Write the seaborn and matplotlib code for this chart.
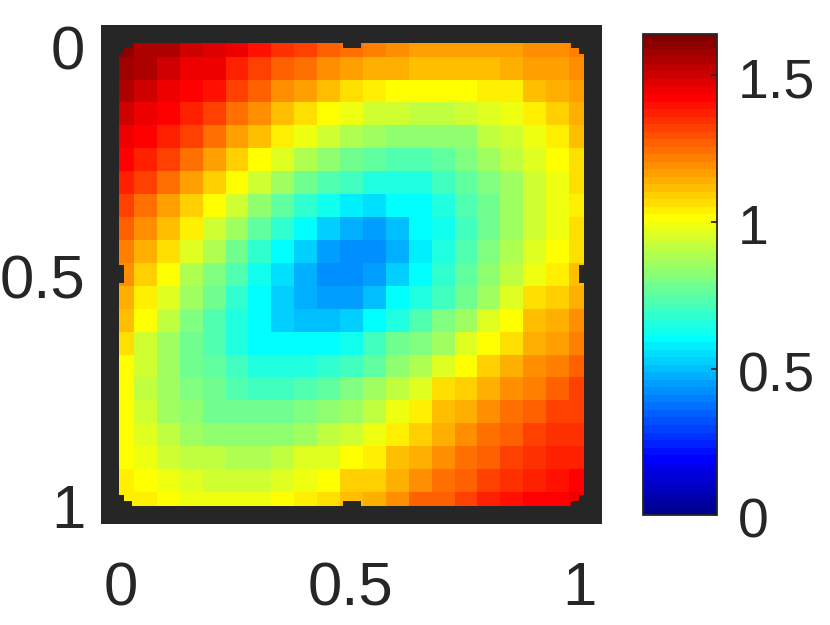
import matplotlib
matplotlib.use("Agg")
import matplotlib.pyplot as plt
from matplotlib.colors import LinearSegmentedColormap
from matplotlib.patches import Rectangle
from matplotlib.transforms import ScaledTranslation
import seaborn as sns

# values, one list per grid row (top to bottom)
row00 = [1.60, 1.56, 1.54, 1.49, 1.48, 1.44, 1.40, 1.35, 1.31, 1.28, 1.25, 1.22, 1.18, 1.16, 1.16, 1.16, 1.16, 1.16, 1.18, 1.18, 1.21]
row01 = [1.58, 1.55, 1.50, 1.46, 1.45, 1.38, 1.33, 1.27, 1.25, 1.18, 1.17, 1.13, 1.13, 1.11, 1.11, 1.11, 1.11, 1.13, 1.16, 1.16, 1.20]
row02 = [1.55, 1.50, 1.45, 1.41, 1.39, 1.33, 1.28, 1.18, 1.16, 1.12, 1.06, 1.05, 1.01, 1.01, 1.01, 1.01, 1.05, 1.05, 1.11, 1.13, 1.16]
row03 = [1.50, 1.45, 1.41, 1.37, 1.31, 1.25, 1.18, 1.11, 1.06, 1.01, 0.98, 0.93, 0.93, 0.91, 0.91, 0.93, 0.96, 0.98, 1.05, 1.10, 1.13]
row04 = [1.45, 1.41, 1.37, 1.31, 1.25, 1.16, 1.11, 1.05, 0.98, 0.93, 0.88, 0.86, 0.83, 0.83, 0.83, 0.83, 0.90, 0.93, 0.98, 1.05, 1.11]
row05 = [1.41, 1.37, 1.31, 1.25, 1.16, 1.09, 1.01, 0.96, 0.88, 0.83, 0.78, 0.76, 0.74, 0.74, 0.76, 0.80, 0.86, 0.90, 0.96, 1.01, 1.06]
row06 = [1.37, 1.33, 1.25, 1.16, 1.09, 1.01, 0.93, 0.86, 0.78, 0.74, 0.71, 0.66, 0.66, 0.66, 0.71, 0.76, 0.80, 0.87, 0.93, 0.98, 1.06]
row07 = [1.33, 1.24, 1.16, 1.10, 1.01, 0.93, 0.83, 0.76, 0.69, 0.64, 0.58, 0.56, 0.59, 0.61, 0.66, 0.74, 0.78, 0.86, 0.93, 0.98, 1.03]
row08 = [1.28, 1.18, 1.11, 1.05, 0.93, 0.86, 0.76, 0.69, 0.61, 0.53, 0.48, 0.46, 0.51, 0.59, 0.64, 0.71, 0.78, 0.86, 0.93, 0.98, 1.06]
row09 = [1.21, 1.13, 1.06, 0.96, 0.88, 0.78, 0.69, 0.61, 0.53, 0.46, 0.41, 0.43, 0.48, 0.57, 0.66, 0.74, 0.81, 0.88, 0.96, 1.01, 1.06]
row10 = [1.18, 1.09, 1.01, 0.89, 0.80, 0.74, 0.64, 0.54, 0.48, 0.43, 0.41, 0.46, 0.52, 0.61, 0.69, 0.76, 0.83, 0.91, 0.98, 1.05, 1.12]
row11 = [1.13, 1.05, 0.96, 0.86, 0.78, 0.69, 0.59, 0.53, 0.47, 0.44, 0.46, 0.50, 0.59, 0.66, 0.71, 0.78, 0.86, 0.96, 1.06, 1.10, 1.14]
row12 = [1.11, 1.01, 0.90, 0.81, 0.74, 0.66, 0.59, 0.53, 0.50, 0.50, 0.53, 0.61, 0.66, 0.74, 0.80, 0.87, 0.96, 1.01, 1.11, 1.14, 1.20]
row13 = [1.06, 0.93, 0.87, 0.78, 0.74, 0.66, 0.61, 0.59, 0.59, 0.59, 0.63, 0.71, 0.78, 0.81, 0.87, 0.96, 1.01, 1.06, 1.14, 1.16, 1.22]
row14 = [1.01, 0.93, 0.87, 0.78, 0.76, 0.70, 0.66, 0.66, 0.66, 0.68, 0.71, 0.76, 0.83, 0.88, 0.96, 1.01, 1.10, 1.14, 1.18, 1.22, 1.28]
row15 = [1.01, 0.91, 0.87, 0.80, 0.78, 0.73, 0.71, 0.71, 0.74, 0.76, 0.81, 0.86, 0.91, 0.96, 1.06, 1.10, 1.14, 1.18, 1.22, 1.28, 1.31]
row16 = [1.01, 0.93, 0.87, 0.83, 0.78, 0.78, 0.78, 0.78, 0.80, 0.82, 0.87, 0.92, 0.98, 1.05, 1.11, 1.14, 1.18, 1.25, 1.28, 1.33, 1.33]
row17 = [1.01, 0.96, 0.90, 0.87, 0.83, 0.83, 0.83, 0.83, 0.86, 0.91, 0.93, 0.98, 1.05, 1.10, 1.14, 1.18, 1.25, 1.28, 1.33, 1.35, 1.35]
row18 = [1.01, 0.98, 0.93, 0.91, 0.91, 0.89, 0.89, 0.92, 0.95, 0.96, 1.01, 1.05, 1.11, 1.14, 1.20, 1.25, 1.28, 1.33, 1.35, 1.38, 1.38]
row19 = [1.03, 1.01, 0.98, 0.96, 0.94, 0.94, 0.94, 0.96, 0.98, 1.01, 1.08, 1.10, 1.14, 1.18, 1.25, 1.28, 1.33, 1.35, 1.38, 1.40, 1.41]
row20 = [1.03, 1.05, 1.01, 0.98, 0.98, 0.98, 0.98, 1.01, 1.03, 1.06, 1.12, 1.14, 1.20, 1.27, 1.28, 1.31, 1.36, 1.39, 1.41, 1.42, 1.44]
grid = [row00, row01, row02, row03, row04, row05, row06, row07, row08, row09, row10,
        row11, row12, row13, row14, row15, row16, row17, row18, row19, row20]

tick_pos = [0.5, 10.5, 20.5]
tick_labels = ["0", "0.5", "1"]
cbar_ticks = [0, 0.5, 1, 1.5]
cbar_labels = ["0", "0.5", "1", "1.5"]

W, H = 830, 625
dark = "#262626"
plt.rcParams["font.family"] = ["Liberation Sans", "DejaVu Sans"]

# MATLAB's jet, its anchors are not the same as matplotlib's
matlab_jet = LinearSegmentedColormap.from_list(
    "matlab_jet",
    [(0, (0, 0, 0.5625)), (7 / 63, (0, 0, 1)), (23 / 63, (0, 1, 1)),
     (39 / 63, (1, 1, 0)), (55 / 63, (1, 0, 0)), (1, (0.5, 0, 0))],
    N=64,
)


def px_axes(x0, y0, x1, y1):
    return fig.add_axes([x0 / W, 1 - y1 / H, (x1 - x0) / W, (y1 - y0) / H])


fig = plt.figure(figsize=(8.3, 6.25), dpi=100)
ax = px_axes(110.15, 33.5, 592.85, 515.2)
cax = px_axes(642.8, 33.8, 716.6, 515.3)

sns.heatmap(grid, cmap=matlab_jet, vmin=0, vmax=1.64, ax=ax, cbar_ax=cax,
            xticklabels=False, yticklabels=False)
ax.set_xlim(-0.04, 21.04)
ax.set_ylim(21.01, -0.01)

# heavy frame, the ticks are as wide as the frame and only show as small notches
ax.set_xticks(tick_pos, tick_labels)
ax.set_yticks(tick_pos, tick_labels, rotation=0)
ax.tick_params(axis="both", direction="in", length=10.1, width=12.96, color=dark,
               labelcolor=dark, labelsize=44.5, top=True, right=True)
ax.tick_params(axis="x", pad=33)
ax.tick_params(axis="y", pad=18)
for s in ax.spines.values():
    s.set_visible(True)
    s.set_linewidth(12.96)
    s.set_color(dark)

# stepped inner corners of the frame
for cx, sx in [(0.358, 1), (20.642, -1)]:
    for cy, sy in [(0.37, 1), (20.63, -1)]:
        for w, h in [(0.22, 0.51), (0.51, 0.2)]:
            ax.add_patch(Rectangle((cx, cy), sx * w, sy * h, color=dark, lw=0, zorder=2))

cbar = ax.collections[0].colorbar
cbar.set_ticks(cbar_ticks, labels=cbar_labels)
cbar.ax.tick_params(direction="in", length=4, width=1.3, color=dark, labelcolor=dark,
                    labelsize=40, pad=15)
cbar.outline.set_visible(True)
cbar.outline.set_edgecolor(dark)
cbar.outline.set_linewidth(1.3)

# labels sit a bit below their ticks
shift = ScaledTranslation(0, -2.5 / 100, fig.dpi_scale_trans)
for lab in ax.get_yticklabels() + cbar.ax.get_yticklabels():
    lab.set_transform(lab.get_transform() + shift)
shift_x = ScaledTranslation(-1.5 / 100, 0, fig.dpi_scale_trans)
for lab in ax.get_xticklabels():
    lab.set_transform(lab.get_transform() + shift_x)

fig.savefig("out.png", dpi=100)
